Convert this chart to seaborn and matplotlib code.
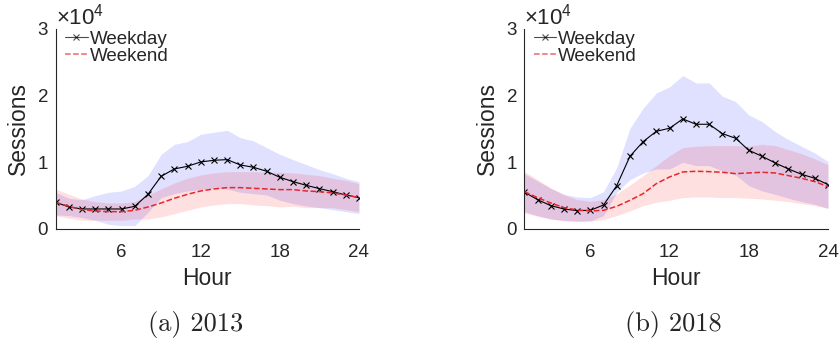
import matplotlib
matplotlib.use("Agg")
import matplotlib.pyplot as plt
import seaborn as sns
from matplotlib.ticker import ScalarFormatter

# Hour of day
hours = list(range(1, 25))

# 2013 — mean sessions per hour and the shaded spread (low / high)
weekday_2013 = [4000, 3300, 3000, 3000, 3000, 3000, 3400, 5200, 7900, 9000, 9400, 10050,
                10300, 10400, 9600, 9250, 8650, 7750, 7100, 6550, 6050, 5600, 5100, 4700]
weekday_2013_lo = [2100, 2000, 1700, 1300, 700, 500, 500, 2500, 4700, 5300, 5700, 5900,
                   6100, 6000, 5500, 5300, 5100, 4300, 3800, 3450, 3200, 2900, 2600, 2300]
weekday_2013_hi = [5500, 4600, 4400, 5000, 5500, 5700, 6400, 8000, 11200, 12700, 13100, 14200,
                   14500, 14800, 13700, 13200, 12200, 11200, 10400, 9650, 8900, 8300, 7600, 7100]
weekend_2013 = [4000, 3400, 2900, 2700, 2600, 2600, 2800, 3300, 3900, 4600, 5200, 5700,
                6000, 6200, 6200, 6100, 6000, 5900, 5900, 5700, 5600, 5400, 5100, 4700]
weekend_2013_lo = [2000, 1600, 1300, 1300, 1300, 1300, 1500, 1500, 1800, 2300, 2800, 3300,
                   3600, 3800, 3800, 3600, 3500, 3300, 3400, 3200, 3200, 3200, 2900, 2600]
weekend_2013_hi = [6000, 5200, 4500, 4100, 3900, 3900, 4100, 5100, 6000, 6900, 7600, 8100,
                   8400, 8600, 8600, 8600, 8500, 8500, 8400, 8200, 8000, 7600, 7300, 6800]

# 2018
weekday_2018 = [5530, 4400, 3500, 3000, 2750, 2800, 3600, 6500, 10900, 13100, 14650, 15100,
                16500, 15700, 15700, 14300, 13600, 11800, 10900, 9900, 9000, 8200, 7600, 6650]
weekday_2018_lo = [2600, 2000, 1500, 1300, 1200, 1200, 2000, 5500, 7400, 8400, 9000, 9000,
                   10000, 9500, 9500, 8700, 8100, 6500, 5700, 5200, 4600, 4100, 3700, 3100]
weekday_2018_hi = [8300, 7200, 6100, 5200, 4800, 4700, 5600, 9200, 15100, 18100, 20400, 21300,
                   23000, 21900, 21900, 19900, 19100, 17100, 16100, 14600, 13400, 12400, 11400, 10100]
weekend_2018 = [5600, 4700, 3900, 3200, 2850, 2700, 2800, 3400, 4300, 5300, 6800, 7800,
                8550, 8650, 8600, 8500, 8300, 8400, 8500, 8400, 8000, 7600, 7100, 6350]
weekend_2018_lo = [2400, 1900, 1500, 1200, 1100, 1200, 1400, 2000, 2700, 3500, 4000, 4300,
                   4700, 4800, 4800, 4700, 4700, 4600, 4500, 4300, 4100, 3800, 3500, 3100]
weekend_2018_hi = [8650, 7400, 6150, 5150, 4400, 4150, 4400, 5300, 6600, 8000, 9500, 11000,
                   12200, 12400, 12500, 12500, 12500, 12400, 12700, 12500, 11900, 11300, 10500, 9650]

x_ticks = [6, 12, 18, 24]
y_ticks = [0, 10000, 20000, 30000]
captions = ["(a) 2013", "(b) 2018"]

sns.set_style("white")
plt.rcParams["font.family"] = ["Liberation Sans", "DejaVu Sans"]
plt.rcParams["mathtext.fontset"] = "custom"
plt.rcParams["mathtext.rm"] = "Liberation Sans"
plt.rcParams["mathtext.it"] = "Liberation Sans:italic"

AX_COLOR = "#262626"
RED = "#e8262b"

fig = plt.figure(figsize=(8.4, 3.48), dpi=100)
ax_a = fig.add_axes([0.0663, 0.342, 0.361, 0.575])
ax_b = fig.add_axes([0.6242, 0.342, 0.3615, 0.575])

panels = [
    (ax_a, weekday_2013, weekday_2013_lo, weekday_2013_hi, weekend_2013, weekend_2013_lo, weekend_2013_hi),
    (ax_b, weekday_2018, weekday_2018_lo, weekday_2018_hi, weekend_2018, weekend_2018_lo, weekend_2018_hi),
]

for ax, wd, wd_lo, wd_hi, we, we_lo, we_hi in panels:
    ax.fill_between(hours, wd_lo, wd_hi, color="#0000ff", alpha=0.12, lw=0)
    ax.fill_between(hours, we_lo, we_hi, color="#ff0000", alpha=0.12, lw=0)
    sns.lineplot(x=hours, y=wd, ax=ax, color="black", lw=0.8, marker="x",
                 markersize=4, mec="black", mew=0.8, label="Weekday")
    sns.lineplot(x=hours, y=we, ax=ax, color=RED, lw=1.1, linestyle="--",
                 dashes=(3.5, 2.2), label="Weekend")

    ax.set_xlim(1, 24)
    ax.set_ylim(0, 30000)
    ax.set_xticks(x_ticks)
    ax.set_yticks(y_ticks)
    fmt = ScalarFormatter(useMathText=True)
    fmt.set_powerlimits((0, 0))
    ax.yaxis.set_major_formatter(fmt)
    ax.yaxis.get_offset_text().set_fontsize(16)
    ax.yaxis.get_offset_text().set_color(AX_COLOR)

    for side in ("top", "right"):
        ax.spines[side].set_visible(False)
    for side in ("left", "bottom"):
        ax.spines[side].set_color(AX_COLOR)
        ax.spines[side].set_linewidth(0.8)
    ax.tick_params(direction="in", length=3, width=0.8, colors=AX_COLOR,
                   labelsize=13.5, pad=5, labelcolor=AX_COLOR)
    ax.tick_params(axis="x", pad=11)

    ax.set_xlabel("Hour", fontsize=16.5, color=AX_COLOR, labelpad=4)
    ax.set_ylabel("Sessions", fontsize=16.5, color=AX_COLOR, labelpad=5)

    leg = ax.legend(loc="upper left", bbox_to_anchor=(0.025, 1.0), frameon=False,
                    fontsize=13.5, handlelength=1.2, handletextpad=0.1,
                    labelspacing=0.0, borderaxespad=0, borderpad=0.1)
    for t in leg.get_texts():
        t.set_color(AX_COLOR)
    for h in leg.legend_handles:
        h.set_alpha(0.7)

fig.text(196 / 840, 1 - 325 / 348, captions[0], family="cmr10", fontsize=19,
         ha="center", va="center")
fig.text(673 / 840, 1 - 325 / 348, captions[1], family="cmr10", fontsize=19,
         ha="center", va="center")

fig.savefig("out.png", dpi=100)
